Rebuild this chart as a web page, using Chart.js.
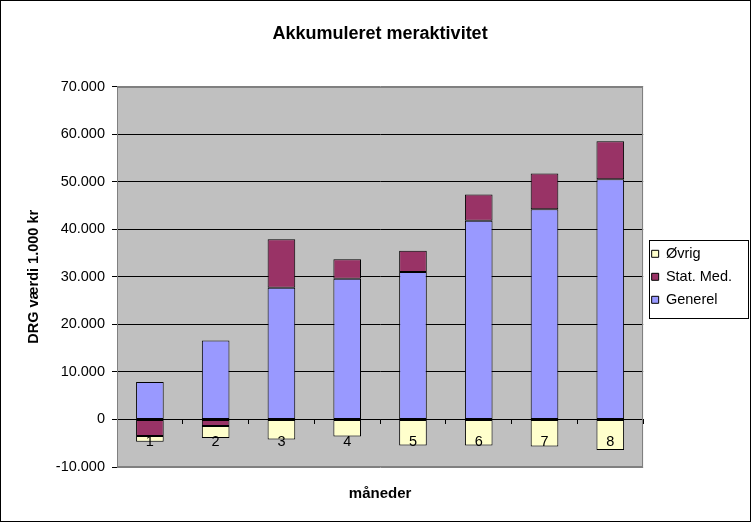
<!DOCTYPE html>
<html>
<head>
<meta charset="utf-8">
<script src="https://cdn.jsdelivr.net/npm/chart.js@4"></script>
<style>
  html, body { margin: 0; padding: 0; background: #ffffff; }
  #wrap { width: 751px; height: 522px; }
</style>
</head>
<body>
<div id="wrap"><canvas id="c" width="751" height="522"></canvas></div>
<script>
// ---- data ----
const categories = ['1', '2', '3', '4', '5', '6', '7', '8'];
const generel = [7900, 16600, 27700, 29600, 31000, 41800, 44200, 50500];
const statMed = [-3500, -1400, 10200, 4100, 4500, 5500, 7500, 8000];
const oevrig  = [-1200, -2500, -4200, -3600, -5500, -5500, -5700, -6400];
const seriesNames = ['Generel', 'Stat. Med.', 'Øvrig'];
const yMin = -10000, yMax = 70000, yStep = 10000;
const titleText = 'Akkumuleret meraktivitet';
const yTitle = 'DRG værdi 1.000 kr';
const xTitle = 'måneder';

const FONT = "'Liberation Sans', Arial, Helvetica, sans-serif";

function fmt(v) {
  const s = Math.abs(v).toString().replace(/\B(?=(\d{3})+(?!\d))/g, '.');
  return (v < 0 ? '-' : '') + s;
}

const decor = {
  id: 'decor',
  beforeDraw(chart) {
    const {ctx, chartArea: a} = chart;
    ctx.save();
    ctx.fillStyle = '#ffffff';
    ctx.fillRect(0, 0, chart.width, chart.height);
    ctx.fillStyle = '#C0C0C0';
    ctx.fillRect(a.left, a.top, a.right - a.left, a.bottom - a.top);
    ctx.restore();
  },
  afterDraw(chart) {
    const {ctx, chartArea: a} = chart;
    ctx.save();
    ctx.strokeStyle = '#808080';
    ctx.lineWidth = 1;
    ctx.strokeRect(Math.round(a.left) + 0.5, Math.round(a.top) + 0.5,
                   Math.round(a.right - a.left) - 1, Math.round(a.bottom - a.top) - 1);
    // legend frame
    const lg = chart.legend;
    if (lg && lg.legendHitBoxes && lg.legendHitBoxes.length) {
      const hb = lg.legendHitBoxes;
      const x0 = Math.min(...hb.map(h => h.left)) - 3;
      const y0 = Math.min(...hb.map(h => h.top)) - 7;
      const y1 = Math.max(...hb.map(h => h.top + h.height)) + 10;
      ctx.strokeStyle = '#000000';
      ctx.strokeRect(Math.round(x0) + 0.5, Math.round(y0) + 0.5, 748 - Math.round(x0), Math.round(y1 - y0));
    }
    // outer chart border
    ctx.strokeStyle = '#000000';
    ctx.strokeRect(0.5, 0.5, chart.width - 1, chart.height - 1);
    ctx.restore();
  }
};

new Chart(document.getElementById('c'), {
  type: 'bar',
  data: {
    labels: categories,
    datasets: [
      { label: seriesNames[0], data: generel, backgroundColor: '#9999FF' },
      { label: seriesNames[1], data: statMed, backgroundColor: '#993366' },
      { label: seriesNames[2], data: oevrig,  backgroundColor: '#FFFFCC' }
    ].map(d => Object.assign(d, {
      borderColor: '#000000', borderWidth: 1, borderSkipped: false,
      barPercentage: 0.42, categoryPercentage: 1.0
    }))
  },
  options: {
    responsive: false,
    animation: false,
    events: [],
    layout: { padding: { left: 2, right: 9, top: 0, bottom: 0 } },
    plugins: {
      title: {
        display: true, text: titleText, color: '#000000', fullSize: false,
        font: { family: FONT, size: 18, weight: 'bold' },
        padding: { top: 23, bottom: 42 }
      },
      legend: {
        display: true, position: 'right', fullSize: false, reverse: true,
        labels: {
          boxWidth: 7, boxHeight: 7, padding: 8.5, color: '#000000',
          font: { family: FONT, size: 14.5 }
        }
      },
      tooltip: { enabled: false }
    },
    scales: {
      x: {
        type: 'category', stacked: true, offset: true,
        position: { y: 0 },
        grid: { display: true, drawOnChartArea: false, drawTicks: true, tickLength: 4, color: '#000000', offset: true },
        border: { display: true, color: '#000000', width: 1, z: 1 },
        ticks: { z: 2, color: '#000000', font: { family: FONT, size: 14.5 }, padding: 10, autoSkip: false, maxRotation: 0 }
      },
      xt: {
        type: 'category', position: 'bottom', offset: true,
        grid: { display: false }, border: { display: false },
        ticks: { display: false },
        title: { display: true, text: xTitle, color: '#000000', font: { family: FONT, size: 15, weight: 'bold' }, padding: { top: 0, bottom: 19 } },
        afterFit(s) { s.height = 55; }
      },
      y: {
        type: 'linear', stacked: true, position: 'left',
        min: yMin, max: yMax,
        grid: {
          color: (c) => (c.tick && (c.tick.value === yMax || c.tick.value === yMin)) ? '#808080' : '#000000',
          tickColor: '#000000', tickLength: 5, lineWidth: 1, drawTicks: true
        },
        border: { display: true, color: '#808080', width: 1 },
        ticks: { stepSize: yStep, color: '#000000', font: { family: FONT, size: 14.5 }, padding: 7, callback: (v) => fmt(v) },
        title: { display: true, text: yTitle, color: '#000000', font: { family: FONT, size: 14.5, weight: 'bold' }, padding: { top: 23, bottom: 0 } },
        afterFit(s) { s.width = 115; }
      }
    }
  },
  plugins: [decor]
});
</script>
</body>
</html>
